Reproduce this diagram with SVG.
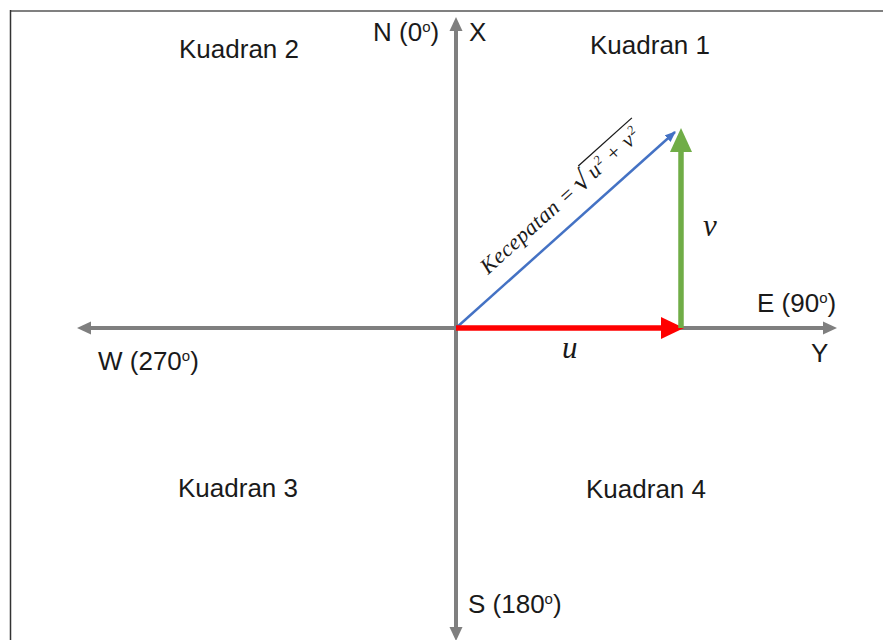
<svg xmlns="http://www.w3.org/2000/svg" width="883" height="640" viewBox="0 0 883 640">
<defs>
<style>
.lbl{font-family:"Liberation Sans","Open Sans",Arial,sans-serif;font-size:26px;fill:#1a1a1a}
.sup{font-size:15px}
.math{font-family:"Liberation Serif","DejaVu Serif",serif;font-style:italic;fill:#1a1a1a}
.axis{stroke:#7f7f7f;stroke-width:4;fill:none}
.ghead{fill:#7f7f7f}
</style>
<marker id="ba" viewBox="0 0 10 8" refX="9" refY="4" markerWidth="11" markerHeight="9" markerUnits="userSpaceOnUse" orient="auto">
<path d="M0,0 L10,4 L0,8 Z" fill="#4472c4"/>
</marker>
</defs>
<rect width="883" height="640" fill="#ffffff"/>
<g id="frame">
<line x1="10" y1="11" x2="883" y2="11" stroke="#808080" stroke-width="2"/>
<line x1="10.5" y1="10" x2="10.5" y2="640" stroke="#333333" stroke-width="1.5"/>
</g>
<g id="connectors">
<line class="axis" x1="456" y1="628" x2="456" y2="30"/>
<path class="ghead" d="M449.5,31 L456,17 L462.5,31 Z"/>
<path class="ghead" d="M449.5,627 L456,641 L462.5,627 Z"/>
<line class="axis" x1="90" y1="328" x2="824" y2="328"/>
<path class="ghead" d="M823,321.5 L837,328 L823,334.5 Z"/>
<path class="ghead" d="M91,321.5 L77,328 L91,334.5 Z"/>
<line x1="456" y1="328" x2="675" y2="132" stroke="#4472c4" stroke-width="2.5" marker-end="url(#ba)"/>
<line x1="456" y1="328" x2="663" y2="328" stroke="#ff0000" stroke-width="5.5"/>
<path d="M661,317 L684,328 L661,339 Z" fill="#ff0000"/>
<line x1="681" y1="328" x2="681" y2="150" stroke="#70ad47" stroke-width="5.5"/>
<path d="M670,152 L681,128 L692,152 Z" fill="#70ad47"/>
</g>
<g id="quadrant1"><text class="lbl" x="590" y="54">Kuadran 1</text></g>
<g id="quadrant2"><text class="lbl" x="179" y="58">Kuadran 2</text></g>
<g id="quadrant3"><text class="lbl" x="178" y="497">Kuadran 3</text></g>
<g id="quadrant4"><text class="lbl" x="586" y="498">Kuadran 4</text></g>
<g id="north"><text class="lbl" x="373" y="41">N (0<tspan class="sup" dy="-9">o</tspan><tspan dy="9">)</tspan></text></g>
<g id="axis-x"><text class="lbl" x="469" y="41">X</text></g>
<g id="east"><text class="lbl" x="757" y="312">E (90<tspan class="sup" dy="-9">o</tspan><tspan dy="9">)</tspan></text></g>
<g id="axis-y"><text class="lbl" x="811" y="362">Y</text></g>
<g id="west"><text class="lbl" x="98" y="370">W (270<tspan class="sup" dy="-9">o</tspan><tspan dy="9">)</tspan></text></g>
<g id="south"><text class="lbl" x="468" y="613">S (180<tspan class="sup" dy="-9">o</tspan><tspan dy="9">)</tspan></text></g>
<g id="label-u"><text class="math" x="562" y="358" font-size="31">u</text></g>
<g id="label-v"><text class="math" x="703" y="236" font-size="31">v</text></g>
<g id="label-speed" transform="translate(488,275) rotate(-41.86)">
<text class="math" x="0" y="0" font-size="22" letter-spacing="0.5">Kecepatan =</text>
<text x="124" y="1" font-family="DejaVu Serif, serif" font-size="26" fill="#1a1a1a">√</text>
<line x1="140" y1="-21" x2="212" y2="-21" stroke="#1a1a1a" stroke-width="1.3"/>
<text class="math" x="143" y="0" font-size="22">u</text>
<text class="math" x="155" y="-8" font-size="13">2</text>
<text x="169" y="0" font-family="Liberation Serif, serif" font-size="22" fill="#1a1a1a">+</text>
<text class="math" x="189" y="0" font-size="22">v</text>
<text class="math" x="200" y="-8" font-size="13">2</text>
</g>
</svg>
